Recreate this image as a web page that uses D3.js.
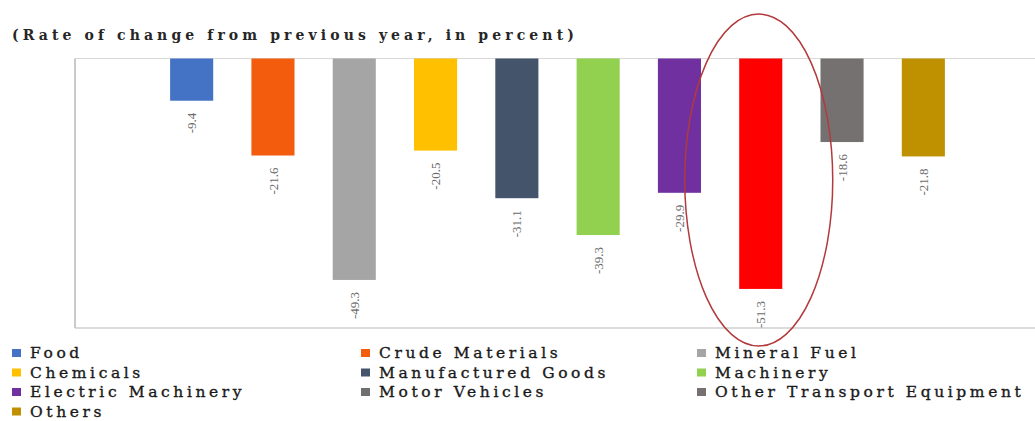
<!DOCTYPE html>
<html>
<head>
<meta charset="utf-8">
<script src="https://cdn.jsdelivr.net/npm/d3@7"></script>
<style>
  html, body { margin: 0; padding: 0; background: #fff; }
  svg { display: block; }
</style>
</head>
<body>
<svg id="chart" width="1035" height="421"></svg>
<script>
// Export categories and their year-on-year change (%)
const categories = [
  "Food", "Crude Materials", "Mineral Fuel", "Chemicals", "Manufactured Goods",
  "Machinery", "Electric Machinery", "Motor Vehicles", "Other Transport Equipment", "Others"
];
const values = [-9.4, -21.6, -49.3, -20.5, -31.1, -39.3, -29.9, -51.3, -18.6, -21.8];
const barColors = [
  "#4472C4", "#F25C0C", "#A5A5A5", "#FFC000", "#44546A",
  "#92D050", "#7030A0", "#FF0000", "#767171", "#BF9000"
];
const legendColors = [
  "#4472C4", "#F25C0C", "#A5A5A5", "#FFC000", "#44546A",
  "#92D050", "#7030A0", "#6F6F6F", "#767171", "#BF9000"
];
const highlighted = "Motor Vehicles";
const yDomain = [-60, 0];
const title = "(Rate of change from previous year, in percent)";

const svg = d3.select("#chart");
const plot = { left: 75, right: 1040, top: 58.5, bottom: 328 };

const x = d3.scaleBand()
  .domain(categories)
  .range([plot.left, plot.right])
  .paddingInner(0.47)
  .paddingOuter(1.17);

const y = d3.scaleLinear()
  .domain(yDomain)
  .range([plot.bottom, plot.top]);

// Title
svg.append("text")
  .attr("x", 12)
  .attr("y", 40)
  .attr("font-family", "'DejaVu Serif', serif")
  .attr("font-size", 14)
  .attr("font-weight", "bold")
  .attr("letter-spacing", 4.1)
  .attr("fill", "#262626")
  .text(title);

// Frame lines: zero line on top, axis on the left, base line at the bottom
svg.append("line")
  .attr("x1", plot.left).attr("x2", 1035)
  .attr("y1", y(0)).attr("y2", y(0))
  .attr("stroke", "#d9d9d9").attr("stroke-width", 1.2);
svg.append("line")
  .attr("x1", plot.left).attr("x2", 1035)
  .attr("y1", y(yDomain[0])).attr("y2", y(yDomain[0]))
  .attr("stroke", "#b8b8b8").attr("stroke-width", 1.2);
svg.append("line")
  .attr("x1", plot.left).attr("x2", plot.left)
  .attr("y1", y(0)).attr("y2", y(yDomain[0]))
  .attr("stroke", "#bdbdbd").attr("stroke-width", 1.6);

const data = categories.map((c, i) => ({ name: c, value: values[i], color: barColors[i] }));

// Bars
svg.append("g")
  .selectAll("rect")
  .data(data)
  .join("rect")
  .attr("x", d => x(d.name))
  .attr("y", d => y(Math.max(0, d.value)))
  .attr("width", x.bandwidth())
  .attr("height", d => Math.abs(y(d.value) - y(0)))
  .attr("fill", d => d.color);

// Value labels, rotated to read bottom-to-top below each bar
svg.append("g")
  .selectAll("text")
  .data(data)
  .join("text")
  .attr("transform", d => `translate(${x(d.name) + x.bandwidth() / 2},${y(d.value) + 12}) rotate(-90)`)
  .attr("text-anchor", "end")
  .attr("dy", "0.35em")
  .attr("font-family", "'Liberation Serif', serif")
  .attr("font-size", 13)
  .attr("fill", "#6b6b6b")
  .text(d => d.value.toFixed(1));

// Highlight ellipse around the motor vehicles bar
svg.append("ellipse")
  .attr("cx", x(highlighted) + x.bandwidth() / 2 - 2)
  .attr("cy", 180)
  .attr("rx", 74)
  .attr("ry", 166)
  .attr("fill", "none")
  .attr("stroke", "#B23A3C")
  .attr("stroke-width", 1.5);

// Legend: three columns, filled row by row
const legendCols = [12, 361, 697];
const legendRow0 = 358, legendRowStep = 19.5;
const legend = svg.append("g")
  .selectAll("g")
  .data(categories.map((c, i) => ({ name: c, color: legendColors[i], i })))
  .join("g")
  .attr("transform", d => `translate(${legendCols[d.i % 3]},${legendRow0 + Math.floor(d.i / 3) * legendRowStep})`);

legend.append("rect")
  .attr("x", 0).attr("y", -9)
  .attr("width", 9).attr("height", 8)
  .attr("fill", d => d.color);

legend.append("text")
  .attr("x", 18)
  .attr("y", 0)
  .attr("font-family", "'DejaVu Serif', serif")
  .attr("font-size", 15.5)
  .attr("letter-spacing", 3.6)
  .attr("fill", "#1a1a1a")
  .attr("stroke", "#1a1a1a")
  .attr("stroke-width", 0.35)
  .text(d => d.name);
</script>
</body>
</html>
